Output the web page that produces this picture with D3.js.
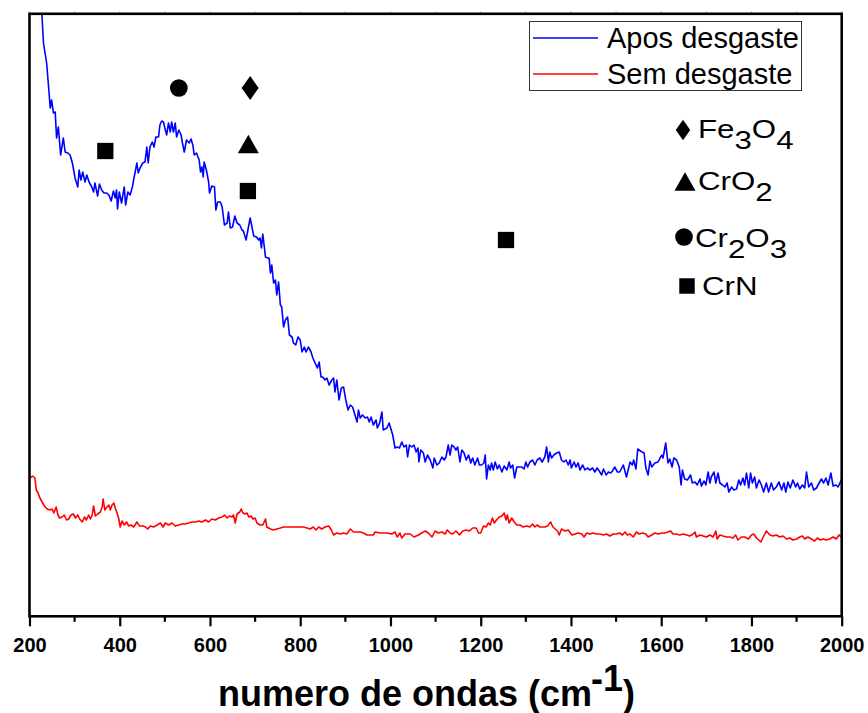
<!DOCTYPE html>
<html>
<head>
<meta charset="utf-8">
<script src="https://cdn.jsdelivr.net/npm/d3@7"></script>
<style>
  html, body { margin: 0; padding: 0; background: #fff; }
  svg { display: block; }
  text { font-family: Arial, "Liberation Sans", sans-serif; fill: #000; }
</style>
</head>
<body>
<svg id="chart" width="868" height="713"></svg>
<script>
// Raman spectra: wavenumber (cm-1) vs intensity (a.u.)
const xTicks = [200, 400, 600, 800, 1000, 1200, 1400, 1600, 1800, 2000];
const xMinorTicks = [300, 500, 700, 900, 1100, 1300, 1500, 1700, 1900];

const seriesNames = ["Apos desgaste", "Sem desgaste"];
const seriesColors = ["#0000ff", "#ff0000"];

// worn sample
const blueSpectrum = [
  [222,648],[231,575],[238,555],[246,510],[249,518],[253,505],[257,506],[260,480],[264,491],[269,463],
  [275,480],[279,466],[285,465],[290,463],[295,455],[301,440],[307,431],[310,448],[314,438],[318,446],
  [323,436],[327,443],[332,436],[338,431],[342,426],[345,435],[351,422],[355,434],[360,428],[365,425],
  [371,425],[376,423],[381,417],[386,427],[390,420],[393,428],[395,409],[399,426],[404,415],[410,431],
  [413,413],[418,426],[423,423],[428,431],[432,441],[438,455],[441,445],[445,450],[451,455],[456,456],
  [460,471],[463,455],[467,471],[472,476],[476,471],[480,481],[486,481],[489,493],[493,497],[497,496],
  [500,490],[504,483],[508,495],[512,486],[515,496],[519,486],[523,495],[526,481],[531,488],[536,483],
  [539,475],[543,466],[548,478],[554,475],[558,479],[562,473],[565,463],[570,465],[576,458],[579,446],
  [582,451],[585,441],[587,456],[592,448],[597,436],[599,425],[604,432],[610,431],[613,408],[617,416],
  [623,416],[627,411],[632,393],[638,395],[641,406],[645,390],[650,391],[655,402],[660,395],[666,393],
  [671,388],[674,387],[680,378],[684,388],[689,400],[693,391],[697,382],[703,381],[708,378],[711,380],
  [714,370],[717,384],[723,361],[728,360],[731,360],[734,345],[737,353],[741,335],[745,338],[748,323],
  [752,336],[756,313],[759,311],[763,291],[767,298],[772,301],[776,283],[782,281],[785,275],[790,273],
  [795,281],[800,278],[804,266],[809,271],[813,266],[818,271],[824,266],[828,260],[833,255],[838,250],
  [842,256],[846,241],[850,241],[855,238],[859,240],[864,233],[870,238],[874,240],[877,226],[881,238],
  [886,218],[891,230],[896,231],[901,218],[906,208],[911,213],[916,211],[920,205],[926,196],[929,208],
  [933,200],[938,203],[944,200],[949,201],[953,196],[957,201],[962,193],[968,198],[971,190],[976,195],
  [981,206],[984,188],[992,190],[997,195],[1005,183],[1010,170],[1015,171],[1020,170],[1025,176],[1030,171],
  [1035,173],[1038,161],[1042,173],[1047,171],[1052,173],[1057,166],[1061,170],[1063,156],[1067,168],[1073,165],
  [1077,156],[1082,163],[1088,158],[1094,150],[1097,160],[1103,153],[1108,155],[1114,161],[1119,158],[1123,161],
  [1128,173],[1132,163],[1136,173],[1141,171],[1145,168],[1149,171],[1154,156],[1158,168],[1163,165],[1168,158],
  [1173,163],[1178,155],[1182,160],[1187,153],[1193,160],[1197,153],[1202,153],[1207,155],[1210,163],[1213,139],
  [1217,153],[1221,148],[1224,155],[1228,148],[1232,156],[1237,149],[1241,153],[1247,146],[1252,152],[1258,148],
  [1263,156],[1266,150],[1271,153],[1275,140],[1280,151],[1286,151],[1291,151],[1296,149],[1300,156],[1304,151],
  [1309,156],[1315,158],[1320,153],[1325,158],[1331,160],[1336,156],[1342,161],[1346,171],[1350,156],[1353,166],
  [1357,160],[1362,163],[1368,165],[1374,166],[1379,158],[1384,156],[1389,158],[1394,153],[1398,158],[1401,150],
  [1407,156],[1411,151],[1416,155],[1420,148],[1426,153],[1431,148],[1436,150],[1442,148],[1448,150],[1453,146],
  [1458,150],[1464,146],[1468,143],[1472,149],[1478,143],[1483,146],[1488,145],[1492,147],[1497,151],[1503,146],
  [1508,146],[1516,153],[1523,141],[1531,156],[1536,153],[1539,158],[1544,149],[1548,169],[1554,167],[1562,165],
  [1566,150],[1571,143],[1575,157],[1579,151],[1586,155],[1593,156],[1601,163],[1604,160],[1610,175],[1615,155],
  [1619,159],[1624,151],[1628,160],[1634,158],[1640,151],[1644,133],[1647,148],[1652,139],[1658,138],[1665,143],
  [1669,135],[1675,136],[1680,133],[1686,139],[1689,132],[1695,137],[1699,133],[1704,146],[1708,135],[1711,141],
  [1717,146],[1721,135],[1726,145],[1730,135],[1736,133],[1741,131],[1746,135],[1750,126],[1756,131],[1761,128],
  [1767,129],[1772,138],[1776,133],[1781,140],[1785,133],[1789,145],[1794,130],[1798,145],[1802,135],[1807,141],
  [1811,130],[1817,138],[1822,133],[1827,126],[1833,135],[1838,126],[1844,135],[1849,128],[1855,131],[1861,136],
  [1867,128],[1872,135],[1876,126],[1881,136],[1886,130],[1892,138],[1898,131],[1902,135],[1907,129],[1913,133],
  [1918,130],[1922,146],[1927,131],[1933,135],[1938,128],[1944,130],[1950,135],[1955,139],[1960,135],[1965,140],
  [1970,133],[1976,145],[1981,132],[1987,133],[1992,131],[1996,135],[2000,139]
];

// unworn sample
const redSpectrum = [
  [202,140],[207,142],[212,140],[215,128],[219,125],[223,120],[228,116],[233,112],[239,109],[245,108],
  [250,109],[254,105],[259,111],[263,103],[267,100],[272,101],[277,103],[282,98],[287,99],[292,103],
  [297,104],[302,100],[307,103],[311,99],[317,96],[322,101],[326,98],[331,103],[335,99],[339,103],
  [342,112],[346,102],[351,104],[357,106],[361,111],[363,119],[367,108],[370,110],[376,113],[379,108],
  [383,113],[387,115],[390,110],[394,105],[398,99],[401,91],[405,97],[410,93],[415,96],[420,92],
  [425,93],[431,91],[438,96],[444,92],[452,92],[457,91],[462,89],[468,92],[475,91],[483,93],
  [490,95],[496,91],[501,95],[508,93],[516,95],[523,92],[531,93],[538,94],[545,94],[553,95],
  [560,96],[568,96],[575,97],[582,96],[590,98],[597,96],[604,99],[612,98],[619,100],[627,101],
  [632,103],[638,100],[643,102],[649,101],[652,103],[656,95],[660,104],[666,106],[669,109],[673,105],
  [678,104],[682,105],[686,101],[691,102],[695,99],[700,100],[704,95],[711,93],[717,93],[723,99],
  [726,91],[734,89],[741,88],[748,89],[756,90],[763,91],[771,91],[778,91],[785,91],[793,91],
  [800,91],[807,91],[815,90],[822,89],[829,91],[835,88],[841,91],[848,89],[855,91],[863,92],
  [869,88],[874,83],[881,85],[889,84],[896,85],[903,84],[911,89],[918,86],[926,86],[933,86],
  [940,85],[948,83],[955,83],[962,83],[966,86],[977,85],[992,85],[1003,84],[1010,86],[1015,81],
  [1021,85],[1025,80],[1032,84],[1044,84],[1052,81],[1062,83],[1069,85],[1077,87],[1084,85],[1092,81],
  [1099,87],[1106,85],[1114,86],[1121,84],[1126,88],[1132,85],[1138,84],[1145,87],[1153,83],[1160,87],
  [1168,88],[1175,87],[1182,90],[1190,90],[1195,85],[1200,85],[1206,92],[1212,91],[1217,95],[1221,93],
  [1226,100],[1230,95],[1235,98],[1241,101],[1247,102],[1252,105],[1256,98],[1259,103],[1263,95],[1269,100],
  [1274,96],[1280,93],[1287,93],[1294,91],[1302,92],[1309,91],[1315,94],[1320,91],[1325,93],[1331,91],
  [1337,91],[1342,91],[1348,92],[1355,96],[1360,91],[1365,89],[1370,87],[1374,83],[1379,89],[1387,87],
  [1394,88],[1402,83],[1409,84],[1416,85],[1424,84],[1429,81],[1435,85],[1442,84],[1449,85],[1457,84],
  [1464,84],[1472,83],[1479,84],[1486,82],[1494,84],[1501,84],[1508,85],[1514,83],[1520,86],[1525,83],
  [1531,84],[1538,81],[1545,86],[1551,84],[1559,85],[1566,84],[1571,81],[1579,83],[1586,85],[1593,84],
  [1601,85],[1608,85],[1615,86],[1621,87],[1626,84],[1634,84],[1641,83],[1649,84],[1656,83],[1663,82],
  [1671,84],[1675,86],[1678,81],[1686,83],[1693,82],[1700,81],[1708,83],[1715,81],[1721,87],[1724,79],
  [1730,83],[1737,82],[1745,81],[1752,81],[1759,80],[1765,83],[1770,78],[1778,81],[1785,81],[1793,79],
  [1800,83],[1805,84],[1811,80],[1821,76],[1826,81],[1833,87],[1841,83],[1848,82],[1855,83],[1863,81],
  [1870,82],[1878,79],[1885,80],[1892,78],[1900,79],[1907,81],[1913,82],[1918,79],[1925,81],[1933,79],
  [1940,77],[1946,80],[1953,78],[1959,79],[1966,78],[1973,79],[1981,81],[1988,79],[1994,83],[2000,81]
];

// phase assignments marked above the spectrum
const markPhases      = ["CrN", "Cr2O3", "Fe3O4", "CrO2", "CrN", "CrN"];
const markWavenumbers = [368, 531, 689, 685, 684, 1256];
const markIntensities = [467, 530, 530, 474, 427, 378];

// phase key: symbol + formula pieces (digits are subscripts)
const keyPhases = ["Fe3O4", "CrO2", "Cr2O3", "CrN"];
const keyParts = [
  [["Fe", false], ["3", true], ["O", false], ["4", true]],
  [["CrO", false], ["2", true]],
  [["Cr", false], ["2", true], ["O", false], ["3", true]],
  [["CrN", false]]
];

const frame = { left: 29.5, right: 841.7, top: 13.8, bottom: 616.3 };

const svg = d3.select("#chart");

const x = d3.scaleLinear().domain([200, 2000]).range([frame.left, frame.right]);
const y = d3.scaleLinear().domain([0, 604]).range([618, 14]);

svg.append("defs").append("clipPath").attr("id", "plotClip")
  .append("rect")
  .attr("x", frame.left).attr("y", frame.top)
  .attr("width", frame.right - frame.left).attr("height", frame.bottom - frame.top);

// spectra
const line = d3.line().x(d => x(d[0])).y(d => y(d[1]));
const plot = svg.append("g").attr("clip-path", "url(#plotClip)");
[redSpectrum, blueSpectrum].forEach((s, k) => {
  plot.append("path")
    .datum(s)
    .attr("d", line)
    .attr("fill", "none")
    .attr("stroke", seriesColors[1 - k])
    .attr("stroke-width", 1.6)
    .attr("stroke-linejoin", "round");
});

// symbols
function symbolPath(phase, scale) {
  const s = scale || 1;
  if (phase === "Fe3O4") {
    const w = 8.5 * s, h = 12 * s;
    return `M0,${-h}L${w},0L0,${h}L${-w},0Z`;
  }
  if (phase === "CrO2") {
    const w = 10.5 * s, h = 18.5 * s;
    return `M0,${-h / 2}L${w},${h / 2}L${-w},${h / 2}Z`;
  }
  if (phase === "Cr2O3") {
    return d3.symbol(d3.symbolCircle, 245 * s * s)();
  }
  return d3.symbol(d3.symbolSquare, 265 * s * s)();
}

svg.append("g").selectAll("path")
  .data(markPhases.map((p, i) => ({ p, w: markWavenumbers[i], v: markIntensities[i] })))
  .join("path")
  .attr("transform", d => `translate(${x(d.w)},${y(d.v)})`)
  .attr("d", d => symbolPath(d.p, 1))
  .attr("fill", "#000");

// axes frame
const xAxis = d3.axisBottom(x).tickValues(xTicks).tickSize(10).tickPadding(8).tickFormat(d3.format("d"));
const gx = svg.append("g").attr("transform", `translate(0,${frame.bottom})`).call(xAxis);
gx.select(".domain").remove();
gx.selectAll(".tick line").attr("stroke", "#000").attr("stroke-width", 2.2);
gx.selectAll(".tick text")
  .attr("font-size", 20).attr("font-weight", "bold")
  .attr("font-family", 'Arial, "Liberation Sans", sans-serif')
  .attr("fill", "#000").attr("dy", "0.71em").attr("y", 22);

svg.append("g").selectAll("line").data(xMinorTicks).join("line")
  .attr("x1", d => x(d)).attr("x2", d => x(d))
  .attr("y1", frame.bottom).attr("y2", frame.bottom + 5.5)
  .attr("stroke", "#000").attr("stroke-width", 2.2);

svg.append("g").selectAll("line").data(xTicks.concat(xMinorTicks)).join("line")
  .attr("x1", d => x(d)).attr("x2", d => x(d))
  .attr("y1", frame.top).attr("y2", frame.top - 3)
  .attr("stroke", "#c8c8c8").attr("stroke-width", 1);

svg.append("rect")
  .attr("x", frame.left).attr("y", frame.top)
  .attr("width", frame.right - frame.left).attr("height", frame.bottom - frame.top)
  .attr("fill", "none").attr("stroke", "#000").attr("stroke-width", 2.6);

// axis title
const title = svg.append("text")
  .attr("x", 218).attr("y", 706)
  .attr("font-size", 36).attr("font-weight", "bold");
title.append("tspan").text("numero de ondas (cm");
title.append("tspan").attr("dx", -1).attr("dy", -15).text("-1");
title.append("tspan").attr("dy", 15).text(")");

// series legend
const legend = svg.append("g");
legend.append("rect")
  .attr("x", 529.5).attr("y", 21.5).attr("width", 272).attr("height", 69)
  .attr("fill", "#fff").attr("stroke", "#333").attr("stroke-width", 1);
seriesNames.forEach((name, i) => {
  const ly = [38, 74][i];
  legend.append("line")
    .attr("x1", 533).attr("x2", 598).attr("y1", ly).attr("y2", ly)
    .attr("stroke", seriesColors[i]).attr("stroke-width", 1.6);
  legend.append("text")
    .attr("x", 607).attr("y", ly + 10)
    .attr("font-size", 29).text(name);
});

// phase key
const keyY = [138, 190, 246.5, 295];
const keySymbolY = [130, 181.5, 237, 286];
const keySymbolX = [683, 685, 684, 687];
const keyScale = [0.85, 1, 1, 0.95];
const keyTextX = [698, 698, 695, 702];
keyPhases.forEach((p, i) => {
  svg.append("path")
    .attr("transform", `translate(${keySymbolX[i]},${keySymbolY[i]})`)
    .attr("d", symbolPath(p, keyScale[i]))
    .attr("fill", "#000");
  const t = svg.append("text")
    .attr("transform", `translate(${keyTextX[i]},${keyY[i]}) scale(1.25,1)`)
    .attr("font-size", 25);
  keyParts[i].forEach(([s, sub], j) => {
    const prevSub = j > 0 && keyParts[i][j - 1][1];
    t.append("tspan")
      .attr("dy", sub ? 11 : (prevSub ? -11 : 0))
      .text(s);
  });
});
</script>
</body>
</html>
